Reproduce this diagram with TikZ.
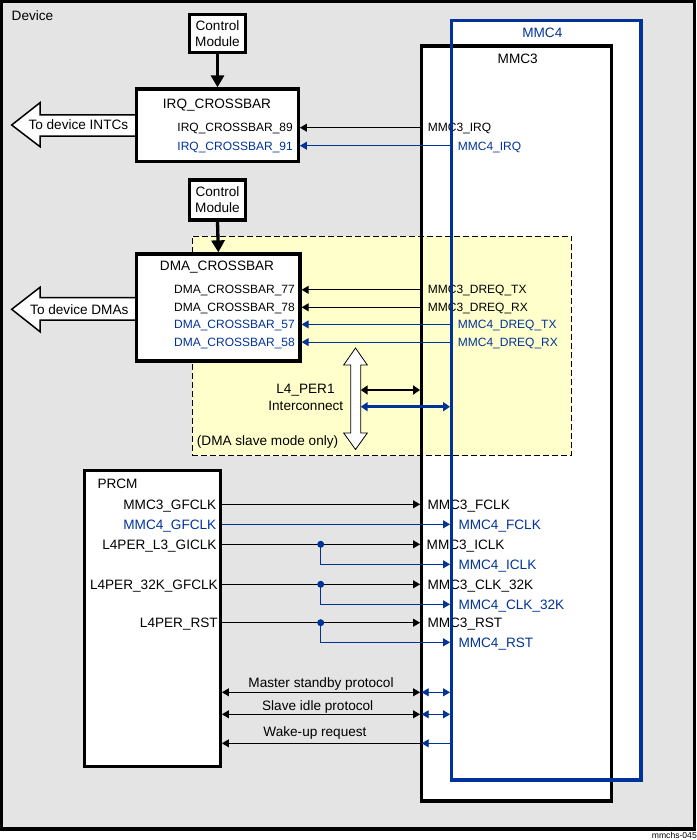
\documentclass[tikz,border=0pt]{standalone}
\usepackage{fontspec}
\setmainfont{Liberation Sans}
\usetikzlibrary{arrows.meta,calc}
\definecolor{tiblue}{RGB}{0,51,153}
\definecolor{devgray}{RGB}{228,228,228}
\definecolor{l4yellow}{RGB}{255,255,204}
\begin{document}
\begin{tikzpicture}[x=1pt,y=-1pt,
  every node/.style={font=\fontsize{13.6}{16}\selectfont, inner sep=0pt},
  small/.style={font=\fontsize{12}{14}\selectfont},
  bl/.style={text=tiblue},
  thickbox/.style={draw, line width=3.3pt, fill=white},
  sig/.style={line width=0.9pt, >={Triangle[length=7pt,width=8pt]}},
  bsig/.style={sig, color=tiblue},
  fat/.style={draw, line width=1.5pt, fill=white},
  ctl/.style={line width=3.3pt, -{Triangle[length=12pt,width=13pt]}},
  bus/.style={line width=2.5pt, {Triangle[length=7pt,width=9pt]}-{Triangle[length=7pt,width=9pt]}},
  dot/.style={circle, fill=tiblue, minimum size=7pt}
]
\useasboundingbox (0,0) rectangle (696,840);
% device frame
\node[draw, line width=3.3pt, fill=devgray, minimum width=693pt, minimum height=827.5pt] (device) at (348,415.25) {};
\node[anchor=base west] (devlbl) at (11.5,20.7) {Device};
% module backgrounds
\node[fill=white, outer sep=1.65pt, minimum width=189.3pt, minimum height=759.3pt] (mmc4bg) at (546.35,400.35) {};
\node[fill=white, minimum width=190pt, minimum height=755pt] (mmc3bg) at (516.7,423.5) {};
\node[draw, dash pattern=on 6pt off 3pt, line width=0.8pt, fill=l4yellow, minimum width=379.7pt, minimum height=219.7pt] (l4area) at (381.85,345.85) {};
\node[draw, line width=3.3pt, minimum width=190pt, minimum height=755pt] (mmc3) at (mmc3bg.center) {};
\node[anchor=base] (mmc3t) at (517.7,63.3) {MMC3};
\node[anchor=base, bl] (mmc4t) at (542.3,37.7) {MMC4};
% fat arrows
\draw[fat] (135,115) -- (40,115) -- (40,102.7) -- (11.7,125) -- (40,146.7) -- (40,136) -- (135,136);
\node[anchor=base west] (intc) at (28.3,130) {To device INTCs};
\draw[fat] (135,297.7) -- (40,297.7) -- (40,287.3) -- (11.7,309.3) -- (40,331.7) -- (40,320) -- (135,320);
\node[anchor=base west] (dmas) at (30,314.3) {To device DMAs};
% control modules and crossbars
\node[thickbox, minimum width=56.4pt, minimum height=38pt, align=center] (cm1) at (217.5,33.3) {Control\\Module};
\node[thickbox, minimum width=161.6pt, minimum height=72.7pt] (irq) at (217.5,125.35) {};
\node[anchor=base] (irqt) at (217,108.3) {IRQ\_CROSSBAR};
\draw[ctl] (cm1.south) -- (irq.north);
\node[thickbox, minimum width=56.4pt, minimum height=40pt, align=center] (cm2) at (217.5,200) {Control\\Module};
\node[thickbox, minimum width=163.3pt, minimum height=107pt] (dma) at (218.35,307.5) {};
\node[anchor=base] (dmat) at (217,270) {DMA\_CROSSBAR};
\draw[ctl] (cm2.south) -- (dma.north);
% PRCM
\node[thickbox, minimum width=136pt, minimum height=296.4pt] (prcm) at (152.3,618.5) {};
\node[anchor=base west] (prcmt) at (97.3,488.3) {PRCM};
% L4 interconnect
\draw[line width=0.8pt, fill=white] (355.5,348) -- (367.3,365) -- (360.7,365) -- (360.7,433) -- (367.3,433) -- (355.5,449.5) -- (343.7,433) -- (350.7,433) -- (350.7,365) -- (343.7,365) -- cycle;
\node[anchor=base] (l4a) at (305.5,393.3) {L4\_PER1};
\node[anchor=base] (l4b) at (305.8,410) {Interconnect};
\node[anchor=base west] (slave) at (196.7,445) {(DMA slave mode only)};
\coordinate (busa) at (360.7,390);
\coordinate (busb) at (360.7,406.7);
\draw[bus] (busa) -- (mmc3.west |- busa);
\draw[bus, color=tiblue] (busb) -- (mmc4bg.west |- busb);
% IRQ signals
\node[small, anchor=base east] (x89) at (293,131.7) {IRQ\_CROSSBAR\_89};
\node[small, bl, anchor=base east] (x91) at (293,150) {IRQ\_CROSSBAR\_91};
\node[small, anchor=base west] (m3irq) at (427.7,131.7) {MMC3\_IRQ};
\node[small, bl, anchor=base west] (m4irq) at (457.7,150) {MMC4\_IRQ};
\draw[sig,<-] ($(irq.east|-x89.base)+(0,-4)$) -- ($(mmc3.west|-x89.base)+(0,-4)$);
\draw[bsig,<-] ($(irq.east|-x91.base)+(0,-4.3)$) -- ($(mmc4bg.west|-x91.base)+(0,-4.3)$);
% DMA signals
\node[small, anchor=base east] (x77) at (295,293.5) {DMA\_CROSSBAR\_77};
\node[small, anchor=base east] (x78) at (295,311) {DMA\_CROSSBAR\_78};
\node[small, bl, anchor=base east] (x57) at (295,328.3) {DMA\_CROSSBAR\_57};
\node[small, bl, anchor=base east] (x58) at (295,346) {DMA\_CROSSBAR\_58};
\node[small, anchor=base west] (d3tx) at (427.7,293.5) {MMC3\_DREQ\_TX};
\node[small, anchor=base west] (d3rx) at (427.7,311) {MMC3\_DREQ\_RX};
\node[small, bl, anchor=base west] (d4tx) at (457.7,328.3) {MMC4\_DREQ\_TX};
\node[small, bl, anchor=base west] (d4rx) at (457.7,346) {MMC4\_DREQ\_RX};
\draw[sig,<-] ($(dma.east|-x77.base)+(0,-3.7)$) -- ($(mmc3.west|-x77.base)+(0,-3.7)$);
\draw[sig,<-] ($(dma.east|-x78.base)+(0,-3.7)$) -- ($(mmc3.west|-x78.base)+(0,-3.7)$);
\draw[bsig,<-] ($(dma.east|-x57.base)+(0,-3.9)$) -- ($(mmc4bg.west|-x57.base)+(0,-3.9)$);
\draw[bsig,<-] ($(dma.east|-x58.base)+(0,-3.9)$) -- ($(mmc4bg.west|-x58.base)+(0,-3.9)$);
% PRCM signals
\node[anchor=base east] (g3) at (216.5,509.3) {MMC3\_GFCLK};
\node[bl, anchor=base east] (g4) at (216.5,529.3) {MMC4\_GFCLK};
\node[anchor=base east] (gi) at (216.7,549.3) {L4PER\_L3\_GICLK};
\node[anchor=base east] (g32) at (218,589.3) {L4PER\_32K\_GFCLK};
\node[anchor=base east] (grst) at (218,627.7) {L4PER\_RST};
\node[anchor=base west] (f3) at (427.3,509.3) {MMC3\_FCLK};
\node[bl, anchor=base west] (f4) at (458.3,529.3) {MMC4\_FCLK};
\node[anchor=base west] (i3) at (426.5,549.3) {MMC3\_ICLK};
\node[bl, anchor=base west] (i4) at (458.3,569.3) {MMC4\_ICLK};
\node[anchor=base west] (k3) at (427.3,589.3) {MMC3\_CLK\_32K};
\node[bl, anchor=base west] (k4) at (458.3,609.3) {MMC4\_CLK\_32K};
\node[anchor=base west] (r3) at (427.3,627.7) {MMC3\_RST};
\node[bl, anchor=base west] (r4) at (458.3,647.3) {MMC4\_RST};
\draw[sig,->] ($(prcm.east|-g3.base)+(0,-5)$) -- ($(mmc3.west|-g3.base)+(0,-5)$);
\draw[bsig,->] ($(prcm.east|-g4.base)+(0,-5)$) -- ($(mmc4bg.west|-g4.base)+(0,-5)$);
\draw[sig,->] ($(prcm.east|-gi.base)+(0,-5)$) -- ($(mmc3.west|-gi.base)+(0,-5)$);
\draw[sig,->] ($(prcm.east|-g32.base)+(0,-5)$) -- ($(mmc3.west|-g32.base)+(0,-5)$);
\draw[sig,->] ($(prcm.east|-grst.base)+(0,-5)$) -- ($(mmc3.west|-grst.base)+(0,-5)$);
\node[dot] (dt1) at (320.7,544.3) {};
\node[dot] (dt2) at (320.7,584.3) {};
\node[dot] (dt3) at (320.7,622.7) {};
\draw[bsig,->] (dt1.center) |- ($(mmc4bg.west|-i4.base)+(0,-5)$);
\draw[bsig,->] (dt2.center) |- ($(mmc4bg.west|-k4.base)+(0,-5)$);
\draw[bsig,->] (dt3.center) |- ($(mmc4bg.west|-r4.base)+(0,-5)$);
% protocols
\node[anchor=base] (msp) at (321,687.3) {Master standby protocol};
\node[anchor=base] (sip) at (317.7,710) {Slave idle protocol};
\node[anchor=base] (wur) at (315,736.7) {Wake-up request};
\draw[sig,<->] ($(prcm.east|-msp.base)+(0,5)$) -- ($(mmc3.west|-msp.base)+(0,5)$);
\draw[bsig,<->] ($(mmc3.center|-msp.base)+(-95,5)$) -- ($(mmc4bg.west|-msp.base)+(0,5)$);
\draw[sig,<->] ($(prcm.east|-sip.base)+(0,4.3)$) -- ($(mmc3.west|-sip.base)+(0,4.3)$);
\draw[bsig,<->] ($(mmc3.center|-sip.base)+(-95,4.3)$) -- ($(mmc4bg.west|-sip.base)+(0,4.3)$);
\draw[sig,<-] ($(prcm.east|-wur.base)+(0,6.6)$) -- ($(mmc3.west|-wur.base)+(0,6.6)$);
\draw[bsig,<-] ($(mmc3.center|-wur.base)+(-95,6.6)$) -- ($(mmc4bg.west|-wur.base)+(0,6.6)$);
% MMC4 outline on top
\node[draw=tiblue, line width=3.3pt, minimum width=189.3pt, minimum height=759.3pt] (mmc4) at (mmc4bg.center) {};
\node[anchor=base east, font=\fontsize{8.6}{10}\selectfont] (figid) at (697,838.5) {mmchs-045};
\end{tikzpicture}
\end{document}
